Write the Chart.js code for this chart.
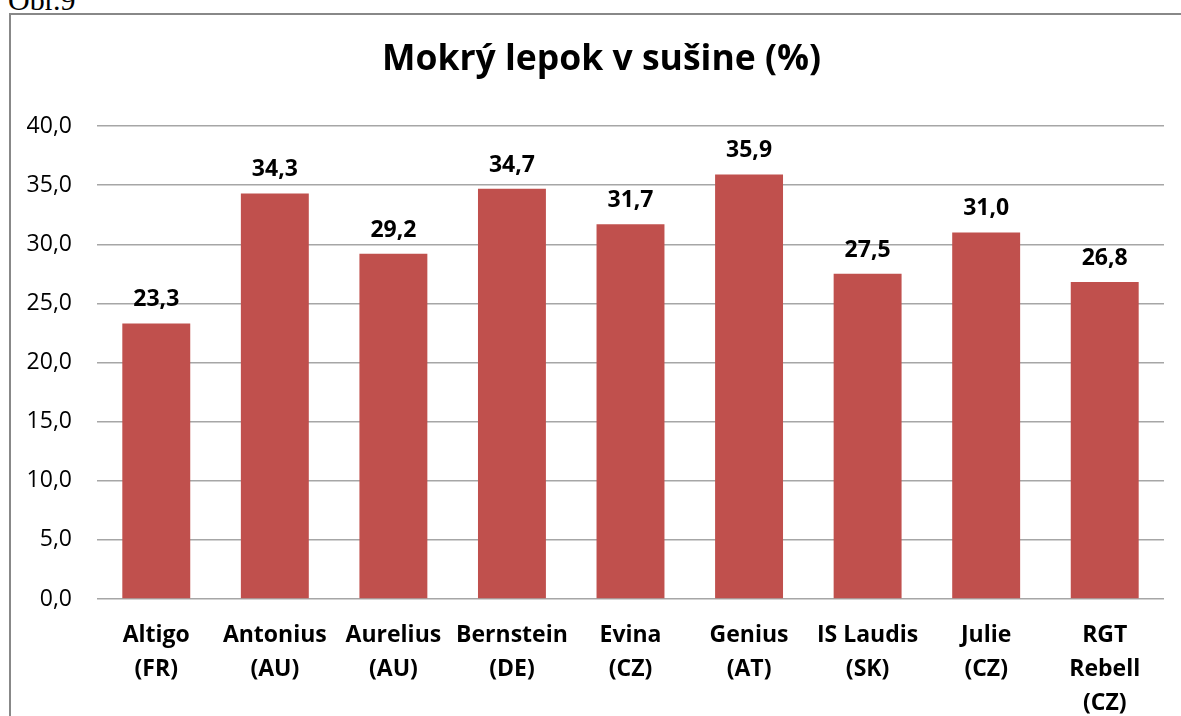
<!DOCTYPE html>
<html>
<head>
<meta charset="utf-8">
<script src="https://cdn.jsdelivr.net/npm/chart.js@4.4.0/dist/chart.umd.min.js"></script>
<style>
  html, body { margin:0; padding:0; width:1181px; height:716px; overflow:hidden; background:#fff; }
  #obr { position:absolute; left:8px; top:-15px; font-family:'Liberation Serif', serif; font-size:30px; line-height:30px; color:#000; white-space:nowrap; }
  #box { position:absolute; left:9px; top:13px; width:1181px; height:701px; border:2px solid #888; background:#fff; }
  canvas { display:block; }
</style>
</head>
<body>
<div id="obr">Obr.9</div>
<div id="box"><canvas id="c" width="1181" height="701"></canvas></div>
<script>
const titleText = 'Mokrý lepok v sušine (%)';
const categories = [
  ['Altigo', '(FR)'],
  ['Antonius', '(AU)'],
  ['Aurelius', '(AU)'],
  ['Bernstein', '(DE)'],
  ['Evina', '(CZ)'],
  ['Genius', '(AT)'],
  ['IS Laudis', '(SK)'],
  ['Julie', '(CZ)'],
  ['RGT', 'Rebell', '(CZ)']
];
const values = [23.3, 34.3, 29.2, 34.7, 31.7, 35.9, 27.5, 31.0, 26.8];
const yMin = 0, yMax = 40, yStep = 5;

const fmt = v => v.toFixed(1).replace('.', ',');

const dataLabels = {
  id: 'dataLabels',
  afterDatasetsDraw(chart) {
    const ctx = chart.ctx;
    const meta = chart.getDatasetMeta(0);
    ctx.save();
    ctx.font = 'bold 23px "Open Sans"';
    ctx.fillStyle = '#000';
    ctx.textAlign = 'center';
    ctx.textBaseline = 'alphabetic';
    meta.data.forEach((bar, i) => {
      ctx.fillText(fmt(values[i]), bar.x, bar.y - 17);
    });
    ctx.restore();
  }
};

new Chart(document.getElementById('c'), {
  type: 'bar',
  data: {
    labels: categories,
    datasets: [{
      data: values,
      backgroundColor: '#c0504d',
      borderWidth: 0,
      barPercentage: 0.573,
      categoryPercentage: 1.0
    }]
  },
  options: {
    responsive: false,
    devicePixelRatio: 1,
    animation: false,
    layout: { padding: 0 },
    plugins: {
      legend: { display: false },
      tooltip: { enabled: false },
      title: {
        display: true,
        text: titleText,
        color: '#000',
        font: { family: 'Open Sans', size: 35.5, weight: 'bold', lineHeight: 1.2 },
        padding: { top: 24, bottom: 44.4 }
      }
    },
    scales: {
      x: {
        grid: { display: false, drawTicks: false },
        border: { display: false },
        ticks: {
          color: '#000',
          font: { family: 'Open Sans', size: 23, weight: 'bold', lineHeight: 1.48 },
          padding: 19,
          autoSkip: false,
          maxRotation: 0,
          minRotation: 0
        },
        afterFit(scale) { scale.height = 117; }
      },
      y: {
        min: yMin,
        max: yMax,
        grid: { color: '#a6a6a6', lineWidth: 1.5, drawTicks: false },
        border: { display: false },
        ticks: {
          stepSize: yStep,
          color: '#000',
          font: { family: 'Open Sans', size: 23 },
          padding: 25,
          callback: v => fmt(v)
        },
        afterFit(scale) { scale.width = 86; }
      },
      ySpacer: {
        position: 'right',
        min: yMin,
        max: yMax,
        grid: { display: false, drawTicks: false },
        border: { display: false },
        ticks: { display: false },
        afterFit(scale) { scale.width = 28; }
      }
    }
  },
  plugins: [dataLabels]
});
</script>
</body>
</html>
